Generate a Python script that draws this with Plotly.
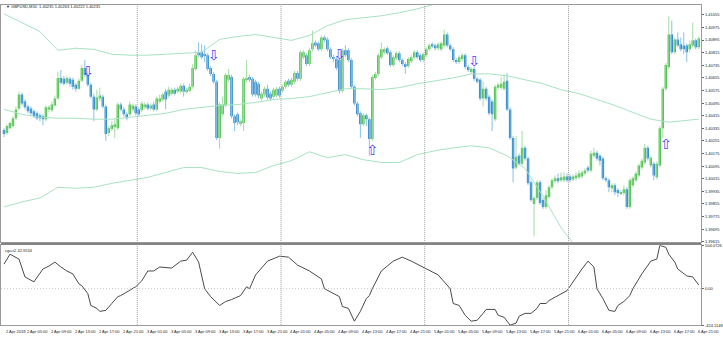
import plotly.graph_objects as go

# ---------------- data (GBPUSD, M30) ----------------
open_ = [
    1.40324, 1.40305, 1.40336, 1.40349, 1.40399, 1.40461, 1.40549, 1.40505, 1.40474, 1.40461,
    1.40443, 1.40430, 1.40418, 1.40411, 1.40393, 1.40455, 1.40449, 1.40480, 1.40524, 1.40655,
    1.40649, 1.40624, 1.40649, 1.40643, 1.40611, 1.40586, 1.40636, 1.40718, 1.40674, 1.40611,
    1.40536, 1.40455, 1.40524, 1.40536, 1.40474, 1.40305, 1.40330, 1.40343, 1.40336, 1.40486,
    1.40455, 1.40424, 1.40424, 1.40455, 1.40474, 1.40455, 1.40449, 1.40468, 1.40486, 1.40461,
    1.40486, 1.40455, 1.40505, 1.40518, 1.40568, 1.40543, 1.40555, 1.40580, 1.40568, 1.40568,
    1.40605, 1.40568, 1.40574, 1.40599, 1.40711, 1.40818, 1.40818, 1.40805, 1.40799, 1.40718,
    1.40680, 1.40630, 1.40274, 1.40424, 1.40480, 1.40643, 1.40661, 1.40411, 1.40424, 1.40368,
    1.40368, 1.40643, 1.40661, 1.40649, 1.40630, 1.40618, 1.40524, 1.40549, 1.40586, 1.40555,
    1.40536, 1.40543, 1.40586, 1.40574, 1.40599, 1.40636, 1.40611, 1.40630, 1.40686, 1.40649,
    1.40786, 1.40799, 1.40743, 1.40836, 1.40880, 1.40874, 1.40836, 1.40911, 1.40899, 1.40836,
    1.40786, 1.40774, 1.40768, 1.40574, 1.40830, 1.40830, 1.40768, 1.40599, 1.40493, 1.40430,
    1.40361, 1.40418, 1.40393, 1.40268, 1.40655, 1.40680, 1.40786, 1.40818, 1.40843, 1.40818,
    1.40736, 1.40780, 1.40811, 1.40768, 1.40743, 1.40730, 1.40761, 1.40786, 1.40818, 1.40799,
    1.40768, 1.40799, 1.40836, 1.40868, 1.40861, 1.40843, 1.40836, 1.40861, 1.40930, 1.40861,
    1.40836, 1.40768, 1.40755, 1.40774, 1.40799, 1.40724, 1.40693, 1.40711, 1.40649, 1.40643,
    1.40524, 1.40586, 1.40536, 1.40505, 1.40393, 1.40593, 1.40593, 1.40586, 1.40636, 1.40455,
    1.40274, 1.40086, 1.40161, 1.40111, 1.40211, 1.40143, 1.39993, 1.39855, 1.39893, 1.39993,
    1.39880, 1.39836, 1.39899, 1.39961, 1.39999, 1.40018, 1.40005, 1.40005, 1.40030, 1.40030,
    1.40011, 1.40018, 1.40024, 1.40030, 1.40049, 1.40086, 1.40068, 1.40161, 1.40180, 1.40161,
    1.40143, 1.40018, 1.40005, 1.39955, 1.39974, 1.39943, 1.39924, 1.39924, 1.39949, 1.39836,
    1.39974, 1.40005, 1.40036, 1.40086, 1.40118, 1.40211, 1.40099, 1.40111, 1.40024, 1.40099,
    1.40336, 1.40586, 1.40724, 1.40930, 1.40818, 1.40899, 1.40868, 1.40861, 1.40861, 1.40836,
    1.40861, 1.40893, 1.40849,
]
high = [
    1.40336, 1.40361, 1.40380, 1.40411, 1.40474, 1.40568, 1.40561, 1.40518, 1.40486, 1.40474,
    1.40455, 1.40443, 1.40430, 1.40424, 1.40480, 1.40480, 1.40505, 1.40543, 1.40693, 1.40705,
    1.40668, 1.40668, 1.40661, 1.40655, 1.40624, 1.40649, 1.40736, 1.40768, 1.40686, 1.40624,
    1.40555, 1.40580, 1.40593, 1.40549, 1.40486, 1.40349, 1.40380, 1.40393, 1.40499, 1.40499,
    1.40468, 1.40436, 1.40505, 1.40493, 1.40486, 1.40468, 1.40505, 1.40499, 1.40499, 1.40493,
    1.40505, 1.40536, 1.40549, 1.40561, 1.40586, 1.40599, 1.40593, 1.40593, 1.40599, 1.40618,
    1.40618, 1.40593, 1.40618, 1.40743, 1.40830, 1.40880, 1.40868, 1.40861, 1.40811, 1.40730,
    1.40693, 1.40643, 1.40499, 1.40536, 1.40686, 1.40711, 1.40674, 1.40424, 1.40436, 1.40393,
    1.40661, 1.40768, 1.40674, 1.40661, 1.40643, 1.40630, 1.40568, 1.40599, 1.40611, 1.40568,
    1.40593, 1.40599, 1.40599, 1.40611, 1.40643, 1.40649, 1.40655, 1.40699, 1.40699, 1.40830,
    1.40830, 1.40811, 1.40843, 1.40955, 1.40893, 1.40886, 1.40924, 1.40924, 1.40911, 1.40849,
    1.40799, 1.40786, 1.40780, 1.40843, 1.40861, 1.40843, 1.40780, 1.40611, 1.40505, 1.40443,
    1.40430, 1.40430, 1.40405, 1.40674, 1.40693, 1.40811, 1.40880, 1.40849, 1.40855, 1.40830,
    1.40799, 1.40824, 1.40824, 1.40780, 1.40755, 1.40786, 1.40799, 1.40830, 1.40830, 1.40811,
    1.40818, 1.40849, 1.40874, 1.40880, 1.40874, 1.40880, 1.40886, 1.40961, 1.40943, 1.40874,
    1.40849, 1.40780, 1.40799, 1.40811, 1.40811, 1.40736, 1.40724, 1.40724, 1.40661, 1.40655,
    1.40630, 1.40599, 1.40549, 1.40518, 1.40611, 1.40624, 1.40661, 1.40680, 1.40686, 1.40468,
    1.40286, 1.40286, 1.40174, 1.40318, 1.40224, 1.40155, 1.40005, 1.39905, 1.40005, 1.40005,
    1.39893, 1.39943, 1.39974, 1.40018, 1.40036, 1.40049, 1.40055, 1.40055, 1.40049, 1.40043,
    1.40043, 1.40055, 1.40068, 1.40068, 1.40080, 1.40099, 1.40193, 1.40211, 1.40193, 1.40174,
    1.40155, 1.40030, 1.40018, 1.39986, 1.39986, 1.39955, 1.39943, 1.39974, 1.39961, 1.40018,
    1.40030, 1.40061, 1.40111, 1.40143, 1.40236, 1.40224, 1.40161, 1.40124, 1.40124, 1.40349,
    1.40599, 1.40749, 1.41049, 1.41018, 1.40911, 1.40943, 1.40911, 1.40943, 1.40874, 1.40893,
    1.41005, 1.40905, 1.40918,
]
low = [
    1.40280, 1.40293, 1.40330, 1.40343, 1.40386, 1.40449, 1.40480, 1.40455, 1.40430, 1.40418,
    1.40399, 1.40386, 1.40380, 1.40355, 1.40380, 1.40436, 1.40436, 1.40474, 1.40518, 1.40611,
    1.40605, 1.40611, 1.40599, 1.40580, 1.40568, 1.40580, 1.40630, 1.40661, 1.40599, 1.40524,
    1.40380, 1.40443, 1.40505, 1.40461, 1.40255, 1.40286, 1.40318, 1.40274, 1.40324, 1.40443,
    1.40411, 1.40386, 1.40411, 1.40443, 1.40418, 1.40411, 1.40436, 1.40455, 1.40449, 1.40449,
    1.40443, 1.40443, 1.40493, 1.40505, 1.40455, 1.40530, 1.40543, 1.40543, 1.40555, 1.40555,
    1.40536, 1.40555, 1.40561, 1.40586, 1.40699, 1.40786, 1.40774, 1.40755, 1.40699, 1.40668,
    1.40618, 1.40261, 1.40205, 1.40411, 1.40468, 1.40630, 1.40399, 1.40318, 1.40355, 1.40349,
    1.40318, 1.40630, 1.40630, 1.40536, 1.40536, 1.40524, 1.40511, 1.40536, 1.40518, 1.40511,
    1.40524, 1.40530, 1.40530, 1.40561, 1.40586, 1.40599, 1.40599, 1.40618, 1.40636, 1.40636,
    1.40774, 1.40730, 1.40730, 1.40824, 1.40849, 1.40824, 1.40824, 1.40880, 1.40824, 1.40774,
    1.40755, 1.40705, 1.40555, 1.40561, 1.40786, 1.40755, 1.40586, 1.40480, 1.40411, 1.40274,
    1.40349, 1.40349, 1.40161, 1.40255, 1.40643, 1.40668, 1.40774, 1.40805, 1.40799, 1.40724,
    1.40724, 1.40768, 1.40755, 1.40730, 1.40680, 1.40718, 1.40749, 1.40774, 1.40774, 1.40755,
    1.40755, 1.40786, 1.40824, 1.40843, 1.40830, 1.40830, 1.40824, 1.40849, 1.40849, 1.40824,
    1.40755, 1.40743, 1.40743, 1.40761, 1.40711, 1.40693, 1.40680, 1.40636, 1.40618, 1.40511,
    1.40474, 1.40511, 1.40418, 1.40318, 1.40380, 1.40580, 1.40580, 1.40574, 1.40443, 1.40261,
    1.39993, 1.40074, 1.40099, 1.40099, 1.40130, 1.39974, 1.39868, 1.39649, 1.39880, 1.39849,
    1.39824, 1.39824, 1.39886, 1.39949, 1.39986, 1.39986, 1.39993, 1.39993, 1.39993, 1.39993,
    1.39999, 1.40005, 1.40011, 1.40018, 1.40036, 1.40055, 1.40055, 1.40149, 1.40130, 1.40099,
    1.40005, 1.39993, 1.39930, 1.39930, 1.39911, 1.39899, 1.39911, 1.39911, 1.39824, 1.39824,
    1.39961, 1.39993, 1.40024, 1.40074, 1.40105, 1.40130, 1.40086, 1.40005, 1.40011, 1.40086,
    1.40274, 1.40574, 1.40711, 1.40805, 1.40805, 1.40849, 1.40824, 1.40805, 1.40755, 1.40818,
    1.40849, 1.40836, 1.40836,
]
close = [
    1.40299, 1.40349, 1.40368, 1.40399, 1.40455, 1.40549, 1.40493, 1.40468, 1.40443, 1.40430,
    1.40411, 1.40399, 1.40399, 1.40393, 1.40468, 1.40468, 1.40486, 1.40524, 1.40655, 1.40624,
    1.40618, 1.40655, 1.40618, 1.40599, 1.40586, 1.40636, 1.40718, 1.40674, 1.40611, 1.40536,
    1.40455, 1.40530, 1.40543, 1.40474, 1.40299, 1.40336, 1.40355, 1.40361, 1.40486, 1.40455,
    1.40424, 1.40399, 1.40486, 1.40480, 1.40430, 1.40424, 1.40493, 1.40486, 1.40461, 1.40480,
    1.40455, 1.40524, 1.40524, 1.40549, 1.40518, 1.40580, 1.40580, 1.40555, 1.40586, 1.40605,
    1.40568, 1.40580, 1.40599, 1.40718, 1.40799, 1.40799, 1.40786, 1.40799, 1.40711, 1.40680,
    1.40630, 1.40274, 1.40486, 1.40486, 1.40674, 1.40674, 1.40411, 1.40368, 1.40374, 1.40380,
    1.40649, 1.40649, 1.40643, 1.40549, 1.40549, 1.40543, 1.40555, 1.40586, 1.40530, 1.40524,
    1.40580, 1.40586, 1.40543, 1.40599, 1.40630, 1.40611, 1.40643, 1.40686, 1.40649, 1.40818,
    1.40818, 1.40743, 1.40830, 1.40874, 1.40861, 1.40836, 1.40911, 1.40893, 1.40836, 1.40786,
    1.40774, 1.40718, 1.40574, 1.40830, 1.40799, 1.40768, 1.40599, 1.40493, 1.40424, 1.40361,
    1.40418, 1.40393, 1.40268, 1.40661, 1.40680, 1.40799, 1.40836, 1.40836, 1.40811, 1.40736,
    1.40786, 1.40811, 1.40768, 1.40743, 1.40724, 1.40774, 1.40786, 1.40818, 1.40786, 1.40768,
    1.40805, 1.40836, 1.40861, 1.40855, 1.40843, 1.40868, 1.40874, 1.40930, 1.40861, 1.40836,
    1.40768, 1.40755, 1.40786, 1.40799, 1.40724, 1.40705, 1.40711, 1.40649, 1.40630, 1.40524,
    1.40586, 1.40524, 1.40430, 1.40424, 1.40599, 1.40611, 1.40618, 1.40630, 1.40455, 1.40274,
    1.40080, 1.40155, 1.40111, 1.40211, 1.40143, 1.39986, 1.39880, 1.39893, 1.39993, 1.39861,
    1.39836, 1.39911, 1.39961, 1.40005, 1.40018, 1.39999, 1.40024, 1.40030, 1.40005, 1.40005,
    1.40030, 1.40036, 1.40049, 1.40055, 1.40068, 1.40068, 1.40174, 1.40180, 1.40143, 1.40130,
    1.40018, 1.40005, 1.39961, 1.39974, 1.39930, 1.39924, 1.39930, 1.39949, 1.39836, 1.40005,
    1.40018, 1.40049, 1.40099, 1.40130, 1.40211, 1.40143, 1.40149, 1.40036, 1.40111, 1.40336,
    1.40586, 1.40736, 1.40930, 1.40818, 1.40899, 1.40861, 1.40836, 1.40836, 1.40818, 1.40868,
    1.40893, 1.40849, 1.40905,
]

# Bollinger-style envelope, read every 6 bars
band_bars = [0, 6, 12, 18, 24, 30, 36, 42, 48, 54, 60, 66, 72, 78, 84, 90, 96, 102, 108, 114,
             120, 126, 132, 138, 144, 150, 156, 162, 168, 174, 180, 186, 192, 198, 204, 210,
             216, 222, 228, 232]
upper_band = [1.41061, 1.41005, 1.40949, 1.40830, 1.40843, 1.40836, 1.40805, 1.40799, 1.40799, 1.40805,
              1.40811, 1.40818, 1.40899, 1.40918, 1.40930, 1.40911, 1.40893, 1.40924, 1.40986, 1.41024,
              1.41036, 1.41049, 1.41068, 1.41093, 1.41124, 1.41136, 1.41143, 1.41155, 1.41174, 1.41205,
              1.41330, 1.41455, 1.41555, 1.41624, 1.41643, 1.41618, 1.41530, 1.41430, 1.41424, 1.41424]
middle_band = [1.40455, 1.40424, 1.40405, 1.40399, 1.40399, 1.40393, 1.40393, 1.40405, 1.40418, 1.40430,
               1.40455, 1.40468, 1.40480, 1.40486, 1.40499, 1.40518, 1.40524, 1.40536, 1.40561, 1.40586,
               1.40586, 1.40580, 1.40593, 1.40618, 1.40636, 1.40655, 1.40680, 1.40680, 1.40668, 1.40643,
               1.40618, 1.40580, 1.40555, 1.40518, 1.40480, 1.40436, 1.40393, 1.40374, 1.40386, 1.40393]
lower_band = [1.39836, 1.39868, 1.39893, 1.39961, 1.39955, 1.39961, 1.39986, 1.40005, 1.40024, 1.40055,
              1.40086, 1.40086, 1.40061, 1.40049, 1.40055, 1.40099, 1.40130, 1.40186, 1.40149, 1.40168,
              1.40136, 1.40118, 1.40118, 1.40168, 1.40193, 1.40211, 1.40224, 1.40211, 1.40161, 1.40080,
              1.39905, 1.39705, 1.39555, 1.39411, 1.39318, 1.39255, 1.39255, 1.39318, 1.39349, 1.39361]

# cgcci2 oscillator (sub window)
cci_bars = [0, 2, 5, 7, 10, 11, 13, 15, 17, 19, 21, 23, 25, 26, 28, 29, 31, 32, 34, 36,
            38, 39, 41, 44, 46, 48, 50, 52, 56, 59, 61, 63, 65, 67, 69, 72, 74, 76, 79, 81,
            82, 84, 88, 92, 95, 98, 102, 106, 107, 111, 112, 113, 115, 117, 119, 121, 122, 123, 126, 130,
            133, 136, 141, 145, 149, 150, 152, 154, 156, 158, 160, 161, 164, 165, 167, 169, 171, 172, 174, 176,
            178, 179, 181, 182, 185, 188, 193, 195, 197, 198, 200, 202, 204, 205, 207, 209, 210, 213, 216, 218,
            219, 221, 222, 224, 225, 227, 228, 230, 231, 232]
cci_values = [286, 401, 344, 137, 80, 126, 229, 263, 309, 252, 206, 172, 57, 34, -58, -195, -229, -264, -252, -172,
              -92, -80, -35, 23, 91, 206, 206, 252, 240, 321, 332, 424, 309, 0, -92, -195, -149, -126, -80, 23,
              0, 160, 321, 378, 367, 275, 206, 114, 0, -80, -92, -207, -229, -378, -264, -115, -80, 0, 206, 321,
              367, 321, 229, 160, 0, -172, -195, -309, -378, -367, -287, -241, -241, -309, -332, -424.1148, -401, -321, -287, -287,
              -229, -172, -172, -138, -80, -23, 229, 321, 252, 0, -115, -252, -264, -195, -149, -80, 0, 172, 321, 344,
              504.0726, 481, 401, 309, 229, 172, 149, 137, 91, 43]

# signal arrows
down_arrow_bars = [28, 70, 112, 157]
down_arrow_prices = [1.40686, 1.40793, 1.40796, 1.40755]
up_arrow_bars = [123, 221]
up_arrow_prices = [1.40186, 1.40224]

# axes
time_label_bars = [0, 7, 15, 23, 31, 39, 47, 55, 63, 71, 79, 87, 95, 103, 111, 119, 127, 135,
                   143, 151, 159, 167, 175, 183, 191, 199, 207, 215, 223, 231]
time_labels = ["2 Apr 2018", "2 Apr 05:00", "2 Apr 09:00", "2 Apr 13:00", "2 Apr 17:00", "2 Apr 21:00",
               "3 Apr 01:00", "3 Apr 05:00", "3 Apr 09:00", "3 Apr 13:00", "3 Apr 17:00", "3 Apr 21:00",
               "4 Apr 01:00", "4 Apr 05:00", "4 Apr 09:00", "4 Apr 13:00", "4 Apr 17:00", "4 Apr 21:00",
               "5 Apr 01:00", "5 Apr 05:00", "5 Apr 09:00", "5 Apr 13:00", "5 Apr 17:00", "5 Apr 21:00",
               "6 Apr 01:00", "6 Apr 05:00", "6 Apr 09:00", "6 Apr 13:00", "6 Apr 17:00", "6 Apr 21:00"]
price_ticks = [1.41055, 1.40975, 1.40895, 1.40815, 1.40735, 1.40655, 1.40575, 1.40495, 1.40415, 1.40335,
               1.40255, 1.40175, 1.40095, 1.40015, 1.39935, 1.39855, 1.39775, 1.39695, 1.39615]
price_range = [1.3961125, 1.411175]
cci_ticks = [504.0726, 0.0, -424.1148]
cci_ticktext = ["504.0726", "0.00", "-424.1148"]
day_separators = [44.5, 92.5, 140.5, 188.5]
x_range = [-1.0, 232.8]
title_text = "GBPUSD,M30  1.40235 1.40263 1.40222 1.40235"
indicator_text = "cgcci2 42.9534"

# ---------------- styling ----------------
BODY_UP = "#34b834"
BODY_DN = "#1479c2"
WICK_UP = "#a3dca3"
WICK_DN = "#86c2e8"
BAND = "#a6e2c2"
ARROW = "#4a3cff"
FONT = "Liberation Sans"
XDOM = [0.0, 706 / 723]
TOPDOM = [1 - 243 / 338, 1 - 2 / 338]
BOTDOM = [1 - 327 / 338, 1 - 246 / 338]

n = len(close)
bars = list(range(n))
up_idx = [i for i in bars if close[i] >= open_[i]]
dn_idx = [i for i in bars if close[i] < open_[i]]

fig = go.Figure()


def wick_xy(idx):
    wx, wy = [], []
    for i in idx:
        wx += [i, i, None]
        wy += [low[i], high[i], None]
    return wx, wy


for idx, col in ((up_idx, WICK_UP), (dn_idx, WICK_DN)):
    wx, wy = wick_xy(idx)
    fig.add_trace(go.Scatter(x=wx, y=wy, mode="lines", line=dict(color=col, width=1),
                             hoverinfo="skip", xaxis="x", yaxis="y"))

for idx, col in ((up_idx, BODY_UP), (dn_idx, BODY_DN)):
    fig.add_trace(go.Bar(x=idx, y=[close[i] - open_[i] for i in idx], base=[open_[i] for i in idx],
                         width=0.8, marker=dict(color=col, line=dict(width=0)),
                         xaxis="x", yaxis="y"))

for band in (upper_band, middle_band, lower_band):
    fig.add_trace(go.Scatter(x=band_bars, y=band, mode="lines", line=dict(color=BAND, width=1),
                             xaxis="x", yaxis="y", hoverinfo="skip"))

fig.add_trace(go.Scatter(x=down_arrow_bars, y=down_arrow_prices, mode="text",
                         text=["\u21e9"] * len(down_arrow_bars),
                         textfont=dict(color=ARROW, size=14, family="DejaVu Sans"),
                         xaxis="x", yaxis="y"))
fig.add_trace(go.Scatter(x=up_arrow_bars, y=up_arrow_prices, mode="text",
                         text=["\u21e7"] * len(up_arrow_bars),
                         textfont=dict(color=ARROW, size=14, family="DejaVu Sans"),
                         xaxis="x", yaxis="y"))

fig.add_trace(go.Scatter(x=cci_bars, y=cci_values, mode="lines",
                         line=dict(color="#4a4a4a", width=1), xaxis="x2", yaxis="y2"))

shapes = []
for d in day_separators:
    shapes.append(dict(type="line", xref="x", yref="paper", x0=d, x1=d, y0=BOTDOM[0], y1=TOPDOM[1],
                       line=dict(color="#9a9a9a", width=1, dash="1px,1px")))
shapes.append(dict(type="line", xref="paper", yref="y2", x0=XDOM[0], x1=XDOM[1], y0=0, y1=0,
                   line=dict(color="#c4c4c4", width=1, dash="1px,2px")))
shapes.append(dict(type="rect", xref="paper", yref="paper", x0=0, x1=XDOM[1],
                   y0=1 - 245.5 / 338, y1=1 - 243.5 / 338, fillcolor="#808080", line=dict(width=0)))

annotations = []
for b, t in zip(time_label_bars, time_labels):
    annotations.append(dict(x=b, y=1 - 333 / 338, xref="x", yref="paper", text=t, showarrow=False,
                            xanchor="left", yanchor="middle", font=dict(size=4, color="#222", family=FONT)))
annotations.append(dict(x=0.004, y=1 - 4 / 338, xref="paper", yref="paper",
                        text="\u25bc " + title_text, showarrow=False, xanchor="left", yanchor="middle",
                        font=dict(size=4, color="#222", family=FONT)))
annotations.append(dict(x=0.003, y=1 - 251 / 338, xref="paper", yref="paper",
                        text=indicator_text, showarrow=False, xanchor="left", yanchor="middle",
                        font=dict(size=4, color="#222", family=FONT)))

axis_common = dict(showgrid=False, zeroline=False, showline=True, linecolor="#9a9a9a", linewidth=1)

fig.update_layout(
    width=723, height=338, margin=dict(l=0, r=0, t=0, b=0),
    paper_bgcolor="white", plot_bgcolor="white", showlegend=False, barmode="overlay",
    xaxis=dict(domain=XDOM, range=x_range, anchor="y", showticklabels=False, ticks="",
               mirror=True, **axis_common),
    yaxis=dict(domain=TOPDOM, range=price_range, anchor="x", side="right",
               tickvals=price_ticks, ticktext=["%.5f" % p for p in price_ticks],
               ticks="outside", ticklen=2, tickcolor="#666",
               tickfont=dict(size=4, color="#222", family=FONT), mirror=True, **axis_common),
    xaxis2=dict(domain=XDOM, range=x_range, anchor="y2", showticklabels=False, ticks="",
                mirror=True, **axis_common),
    yaxis2=dict(domain=BOTDOM, range=[cci_ticks[2], cci_ticks[0]], anchor="x2", side="right",
                tickvals=cci_ticks, ticktext=cci_ticktext, ticks="outside", ticklen=2, tickcolor="#666",
                tickfont=dict(size=4, color="#222", family=FONT), mirror=True, **axis_common),
    shapes=shapes, annotations=annotations,
)

fig.write_html("out.html")
